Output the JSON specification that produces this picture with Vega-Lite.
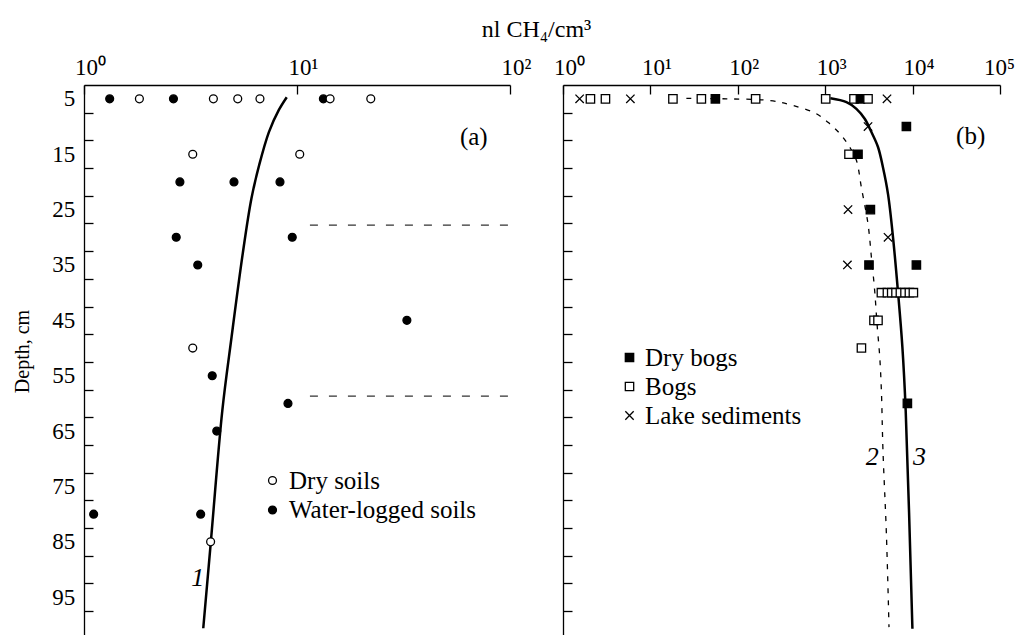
{
  "$schema": "https://vega.github.io/schema/vega-lite/v6.json",
  "background": "white",
  "padding": {"left": 12, "top": 17, "right": 0, "bottom": 0},
  "bounds": "flush",
  "spacing": 53,
  "resolve": {
    "scale": {"fill": "independent", "shape": "independent"},
    "legend": {"fill": "independent", "shape": "independent"}
  },
  "config": {
    "font": "Liberation Serif",
    "view": {"stroke": null},
    "axis": {
      "grid": false,
      "domainColor": "black",
      "domainWidth": 1.3,
      "tickColor": "black",
      "tickWidth": 1.3,
      "labelColor": "black",
      "labelFont": "Liberation Serif",
      "labelFontSize": 23,
      "titleFont": "Liberation Serif",
      "titleColor": "black",
      "titleFontWeight": "normal",
      "labelOverlap": false,
      "labelFlush": false,
      "labelBound": false
    },
    "legend": {
      "labelFont": "Liberation Serif",
      "labelFontSize": 25,
      "labelColor": "black",
      "labelLimit": 0,
      "padding": 0
    }
  },
  "datasets": {
    "soils": [
      {"c": 1.32, "depth": 5, "type": "Water-logged soils"},
      {"c": 2.63, "depth": 5, "type": "Water-logged soils"},
      {"c": 13.3, "depth": 5, "type": "Water-logged soils"},
      {"c": 2.82, "depth": 20, "type": "Water-logged soils"},
      {"c": 5.06, "depth": 20, "type": "Water-logged soils"},
      {"c": 8.32, "depth": 20, "type": "Water-logged soils"},
      {"c": 2.71, "depth": 30, "type": "Water-logged soils"},
      {"c": 9.5, "depth": 30, "type": "Water-logged soils"},
      {"c": 3.42, "depth": 35, "type": "Water-logged soils"},
      {"c": 32.8, "depth": 45, "type": "Water-logged soils"},
      {"c": 4.0, "depth": 55, "type": "Water-logged soils"},
      {"c": 9.07, "depth": 60, "type": "Water-logged soils"},
      {"c": 4.2, "depth": 65, "type": "Water-logged soils"},
      {"c": 1.11, "depth": 80, "type": "Water-logged soils"},
      {"c": 3.53, "depth": 80, "type": "Water-logged soils"},
      {"c": 1.82, "depth": 5, "type": "Dry soils"},
      {"c": 4.05, "depth": 5, "type": "Dry soils"},
      {"c": 5.27, "depth": 5, "type": "Dry soils"},
      {"c": 6.7, "depth": 5, "type": "Dry soils"},
      {"c": 14.3, "depth": 5, "type": "Dry soils"},
      {"c": 22.2, "depth": 5, "type": "Dry soils"},
      {"c": 3.24, "depth": 15, "type": "Dry soils"},
      {"c": 10.3, "depth": 15, "type": "Dry soils"},
      {"c": 3.24, "depth": 50, "type": "Dry soils"},
      {"c": 3.93, "depth": 85, "type": "Dry soils"}
    ],
    "curve1": [
      {"c": 8.95, "depth": 4.7},
      {"c": 8.22, "depth": 7.0},
      {"c": 7.38, "depth": 11.0},
      {"c": 6.64, "depth": 17.0},
      {"c": 6.11, "depth": 23.0},
      {"c": 5.56, "depth": 33.0},
      {"c": 4.93, "depth": 48.0},
      {"c": 4.46, "depth": 61.3},
      {"c": 3.94, "depth": 85.0},
      {"c": 3.63, "depth": 100.6}
    ],
    "dashA": [
      {"c": 11.5, "c2": 100, "depth": 27.8},
      {"c": 11.5, "c2": 100, "depth": 58.7}
    ],
    "textA": [
      {"c": 67.6, "depth": 11.8, "label": "(a)"}
    ],
    "italA": [
      {"c": 3.42, "depth": 91.5, "label": "1"}
    ],
    "bogs": [
      {"c": 1.55, "depth": 5, "kind": "Lake sediments"},
      {"c": 2.06, "depth": 5, "kind": "Bogs"},
      {"c": 3.06, "depth": 5, "kind": "Bogs"},
      {"c": 5.9, "depth": 5, "kind": "Lake sediments"},
      {"c": 18.1, "depth": 5, "kind": "Bogs"},
      {"c": 38.3, "depth": 5, "kind": "Bogs"},
      {"c": 55.4, "depth": 5, "kind": "Dry bogs"},
      {"c": 160, "depth": 5, "kind": "Bogs"},
      {"c": 1013, "depth": 5, "kind": "Bogs"},
      {"c": 2135, "depth": 5, "kind": "Bogs"},
      {"c": 2528, "depth": 5, "kind": "Dry bogs"},
      {"c": 3090, "depth": 5, "kind": "Bogs"},
      {"c": 5093, "depth": 5, "kind": "Lake sediments"},
      {"c": 3090, "depth": 10, "kind": "Lake sediments"},
      {"c": 8490, "depth": 10, "kind": "Dry bogs"},
      {"c": 1871, "depth": 15, "kind": "Bogs"},
      {"c": 2373, "depth": 15, "kind": "Dry bogs"},
      {"c": 1824, "depth": 25, "kind": "Lake sediments"},
      {"c": 3289, "depth": 25, "kind": "Dry bogs"},
      {"c": 5234, "depth": 30, "kind": "Lake sediments"},
      {"c": 1795, "depth": 35, "kind": "Lake sediments"},
      {"c": 3170, "depth": 35, "kind": "Dry bogs"},
      {"c": 11050, "depth": 35, "kind": "Dry bogs"},
      {"c": 4395, "depth": 40, "kind": "Bogs"},
      {"c": 5150, "depth": 40, "kind": "Bogs"},
      {"c": 5765, "depth": 40, "kind": "Bogs"},
      {"c": 6455, "depth": 40, "kind": "Bogs"},
      {"c": 7250, "depth": 40, "kind": "Bogs"},
      {"c": 8185, "depth": 40, "kind": "Bogs"},
      {"c": 9190, "depth": 40, "kind": "Bogs"},
      {"c": 10210, "depth": 40, "kind": "Bogs"},
      {"c": 3614, "depth": 45, "kind": "Bogs"},
      {"c": 4018, "depth": 45, "kind": "Bogs"},
      {"c": 2597, "depth": 50, "kind": "Bogs"},
      {"c": 8716, "depth": 60, "kind": "Dry bogs"}
    ],
    "curve2": [
      {"c": 25.8, "depth": 4.9},
      {"c": 74, "depth": 5.0},
      {"c": 232, "depth": 5.3},
      {"c": 428, "depth": 6.2},
      {"c": 793, "depth": 7.7},
      {"c": 1127, "depth": 9.5},
      {"c": 1531, "depth": 11.6},
      {"c": 1905, "depth": 13.7},
      {"c": 2275, "depth": 16.1},
      {"c": 2594, "depth": 21.0},
      {"c": 3090, "depth": 27.6},
      {"c": 3378, "depth": 33.6},
      {"c": 3681, "depth": 39.6},
      {"c": 3917, "depth": 45.6},
      {"c": 4207, "depth": 51.6},
      {"c": 4395, "depth": 57.7},
      {"c": 4581, "depth": 68.5},
      {"c": 5012, "depth": 83.5},
      {"c": 5370, "depth": 100.4}
    ],
    "curve3": [
      {"c": 1146, "depth": 4.9},
      {"c": 1750, "depth": 5.6},
      {"c": 2275, "depth": 6.8},
      {"c": 2831, "depth": 8.6},
      {"c": 3378, "depth": 11.0},
      {"c": 4018, "depth": 13.7},
      {"c": 4584, "depth": 17.4},
      {"c": 5233, "depth": 22.2},
      {"c": 5970, "depth": 30.0},
      {"c": 6808, "depth": 39.9},
      {"c": 7638, "depth": 49.8},
      {"c": 8337, "depth": 61.3},
      {"c": 9954, "depth": 100.7}
    ],
    "textB": [
      {"c": 46200, "depth": 11.7, "label": "(b)"}
    ],
    "italB": [
      {"c": 3450, "depth": 69.6, "label": "2"},
      {"c": 11960, "depth": 69.6, "label": "3"}
    ]
  },
  "hconcat": [
    {
      "width": 426,
      "height": 551,
      "encoding": {
        "x": {
          "field": "c",
          "type": "quantitative",
          "scale": {"type": "log", "domain": [1, 100], "nice": false},
          "axis": {
            "orient": "top",
            "values": [1, 10, 100],
            "tickSize": -9,
            "labelExpr": "'10' + ['⁰','¹','²','³','⁴','⁵'][round(log(datum.value)/LN10)]",
            "labelBaseline": "alphabetic",
            "labelAlign": "center",
            "labelPadding": 19.7,
            "labelOffset": 6,
            "title": "nl CH₄/cm³",
            "titleFontSize": 24,
            "titleX": 452,
            "titleY": -49,
            "titleAlign": "center",
            "titleBaseline": "alphabetic",
            "titleAngle": 0
          }
        },
        "y": {
          "field": "depth",
          "type": "quantitative",
          "scale": {"domain": [2.5, 102], "reverse": true, "nice": false, "zero": false},
          "axis": {
            "values": [5, 7.5, 12.5, 15, 17.5, 22.5, 25, 27.5, 32.5, 35, 37.5, 42.5, 45, 47.5, 52.5, 55, 57.5, 62.5, 65, 67.5, 72.5, 75, 77.5, 82.5, 85, 87.5, 92.5, 95, 97.5],
            "tickSize": -9,
            "tickOpacity": {"condition": {"test": "datum.value % 5 != 0", "value": 1}, "value": 0},
            "labelExpr": "datum.value % 10 == 5 ? datum.label : ''",
            "labelPadding": 18.3,
            "labelBaseline": "middle",
            "title": "Depth, cm",
            "titleFontSize": 20,
            "titleAngle": -90,
            "titleX": -52,
            "titleY": 266,
            "titleAlign": "center",
            "titleBaseline": "bottom"
          }
        }
      },
      "layer": [
        {
          "data": {"name": "dashA"},
          "mark": {"type": "rule", "color": "#333333", "strokeWidth": 1.3, "strokeDash": [8, 11]},
          "encoding": {"x2": {"field": "c2"}}
        },
        {
          "data": {"name": "curve1"},
          "mark": {"type": "line", "color": "black", "strokeWidth": 2.5, "interpolate": "catmull-rom"},
          "encoding": {"order": {"field": "depth", "type": "quantitative"}}
        },
        {
          "data": {"name": "soils"},
          "mark": {"type": "point", "shape": "circle", "filled": true, "stroke": "black", "strokeWidth": 1.3, "size": 62, "opacity": 1},
          "encoding": {
            "fill": {
              "field": "type",
              "type": "nominal",
              "scale": {"domain": ["Dry soils", "Water-logged soils"], "range": ["white", "black"]},
              "legend": {
                "orient": "none",
                "legendX": 176,
                "legendY": 383,
                "title": null,
                "symbolType": "circle",
                "symbolSize": 62,
                "symbolStrokeColor": "black",
                "symbolStrokeWidth": 1.3,
                "labelOffset": 4,
                "rowPadding": 3.5
              }
            }
          }
        },
        {
          "data": {"name": "textA"},
          "mark": {"type": "text", "fontSize": 25, "color": "black", "align": "center", "baseline": "middle"},
          "encoding": {"text": {"field": "label"}}
        },
        {
          "data": {"name": "italA"},
          "mark": {"type": "text", "fontSize": 26, "fontStyle": "italic", "color": "black", "align": "center", "baseline": "middle"},
          "encoding": {"text": {"field": "label"}}
        }
      ]
    },
    {
      "width": 437,
      "height": 551,
      "encoding": {
        "x": {
          "field": "c",
          "type": "quantitative",
          "scale": {"type": "log", "domain": [1, 100000], "nice": false},
          "axis": {
            "orient": "top",
            "values": [1, 10, 100, 1000, 10000, 100000],
            "tickSize": -9,
            "labelExpr": "'10' + ['⁰','¹','²','³','⁴','⁵'][round(log(datum.value)/LN10)]",
            "labelBaseline": "alphabetic",
            "labelAlign": "center",
            "labelPadding": 19.7,
            "labelOffset": {"condition": {"test": "datum.value > 50000", "value": -1}, "value": 6},
            "title": null
          }
        },
        "y": {
          "field": "depth",
          "type": "quantitative",
          "scale": {"domain": [2.5, 102], "reverse": true, "nice": false, "zero": false},
          "axis": {
            "values": [7.5, 12.5, 17.5, 22.5, 27.5, 32.5, 37.5, 42.5, 47.5, 52.5, 57.5, 62.5, 67.5, 72.5, 77.5, 82.5, 87.5, 92.5, 97.5],
            "tickSize": -9,
            "labels": false,
            "title": null
          }
        }
      },
      "layer": [
        {
          "data": {"name": "curve2"},
          "mark": {"type": "line", "color": "black", "strokeWidth": 1.3, "strokeDash": [5, 7], "interpolate": "catmull-rom"},
          "encoding": {"order": {"field": "depth", "type": "quantitative"}}
        },
        {
          "data": {"name": "curve3"},
          "mark": {"type": "line", "color": "black", "strokeWidth": 2.5, "interpolate": "catmull-rom"},
          "encoding": {"order": {"field": "depth", "type": "quantitative"}}
        },
        {
          "data": {"name": "bogs"},
          "mark": {"type": "point", "filled": true, "stroke": "black", "strokeWidth": 1.3, "size": 70, "opacity": 1},
          "encoding": {
            "shape": {
              "field": "kind",
              "type": "nominal",
              "scale": {"domain": ["Dry bogs", "Bogs", "Lake sediments"], "range": ["square", "square", "M-1,-1L1,1M1,-1L-1,1"]},
              "legend": {
                "orient": "none",
                "legendX": 54,
                "legendY": 260,
                "title": null,
                "symbolSize": 70,
                "labelOffset": 3,
                "rowPadding": 3,
                "encoding": {"symbols": {"stroke": {"value": "black"}, "strokeWidth": {"value": 1.3}}}
              }
            },
            "fill": {
              "field": "kind",
              "type": "nominal",
              "scale": {"domain": ["Dry bogs", "Bogs", "Lake sediments"], "range": ["black", "white", "transparent"]},
              "legend": {
                "orient": "none",
                "legendX": 54,
                "legendY": 260,
                "title": null,
                "symbolSize": 70,
                "labelOffset": 3,
                "rowPadding": 3,
                "encoding": {"symbols": {"stroke": {"value": "black"}, "strokeWidth": {"value": 1.3}}}
              }
            }
          }
        },
        {
          "data": {"name": "textB"},
          "mark": {"type": "text", "fontSize": 25, "color": "black", "align": "center", "baseline": "middle"},
          "encoding": {"text": {"field": "label"}}
        },
        {
          "data": {"name": "italB"},
          "mark": {"type": "text", "fontSize": 26, "fontStyle": "italic", "color": "black", "align": "center", "baseline": "middle"},
          "encoding": {"text": {"field": "label"}}
        }
      ]
    }
  ]
}
